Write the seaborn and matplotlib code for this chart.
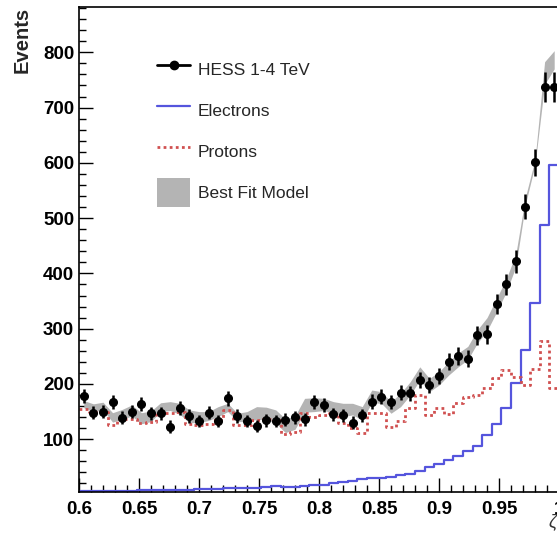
import numpy as np
import matplotlib
matplotlib.use("Agg")
import matplotlib.pyplot as plt
import seaborn as sns
from matplotlib.lines import Line2D
from matplotlib.patches import Patch
from matplotlib.ticker import MultipleLocator, FuncFormatter

# ---------------- data (50 bins of width 0.008 in zeta, 0.6 .. 1.0) ----------------
x_min, x_max, n_bins = 0.6, 1.0, 50

hess_counts = [178, 148, 150, 167, 139, 150, 163, 147, 147, 123,
               156, 142, 133, 148, 133, 174, 142, 133, 124, 134,
               133, 135, 140, 136, 167, 162, 145, 143, 130, 143,
               168, 177, 167, 184, 183, 207, 198, 214, 240, 251,
               246, 288, 290, 345, 380, 422, 521, 601, 738, 738]

hess_errors = [13.3, 12.2, 12.2, 12.9, 11.8, 12.2, 12.8, 12.1, 12.1, 11.1,
               12.5, 11.9, 11.5, 12.2, 11.5, 13.2, 11.9, 11.5, 11.1, 11.6,
               11.5, 11.6, 11.8, 11.7, 12.9, 12.7, 12.0, 12.0, 11.4, 12.0,
               13.0, 13.3, 12.9, 13.6, 13.5, 14.4, 14.1, 14.6, 15.5, 15.8,
               15.7, 17.0, 17.0, 18.6, 19.5, 20.5, 22.8, 24.5, 27.2, 27.2]

electrons = [6, 6, 6, 7, 7, 7, 8, 8, 8, 9,
             9, 9, 10, 10, 10, 11, 11, 11, 12, 14,
             15, 14, 14, 15, 17, 18, 20, 23, 25, 28,
             29, 30, 32, 35, 38, 43, 49, 55, 63, 69,
             79, 88, 107, 128, 156, 201, 261, 347, 488, 596]

protons = [155, 149, 150, 126, 137, 137, 130, 131, 148, 148,
           150, 128, 126, 127, 135, 153, 126, 125, 135, 137,
           135, 110, 113, 147, 141, 144, 148, 129, 120, 112,
           148, 147, 123, 133, 156, 180, 144, 156, 145, 165,
           177, 180, 193, 210, 225, 213, 199, 227, 278, 193]

fit_upper = [170, 164, 167, 148, 154, 162, 148, 151, 166, 168,
             165, 153, 150, 150, 159, 165, 147, 150, 159, 158,
             153, 137, 142, 174, 175, 174, 168, 165, 165, 159,
             189, 186, 168, 183, 204, 231, 210, 222, 240, 256,
             268, 298, 320, 355, 390, 435, 538, 606, 783, 803]

fit_lower = [157, 150, 153, 131, 136, 142, 128, 132, 150, 152,
             145, 130, 130, 134, 141, 150, 132, 132, 136, 135,
             129, 112, 118, 149, 150, 152, 147, 141, 144, 135,
             166, 165, 147, 159, 180, 207, 186, 198, 216, 231,
             244, 274, 296, 330, 366, 412, 525, 596, 742, 770]

legend_labels = ["HESS 1-4 TeV", "Electrons", "Protons", "Best Fit Model"]

# ---------------- figure ----------------
sns.set_theme(style="ticks")
plt.rcParams['font.family'] = ['Liberation Sans', 'DejaVu Sans']
plt.rcParams['font.weight'] = 'bold'

W, H = 557, 536
fig = plt.figure(figsize=(W / 100, H / 100), dpi=100)
fig.patch.set_facecolor('white')
ax = fig.add_axes([79 / W, 1 - 492.3 / H, 480 / W, (492.3 - 7) / H])
ax.set_facecolor('white')

edges = np.linspace(x_min, x_max, n_bins + 1)
centers = 0.5 * (edges[:-1] + edges[1:])
edge_list = [float(e) for e in edges]

col_band = '#b4b4b4'
col_e = '#5555dd'
col_p = '#d05050'
dots = (0, (1, 1.2))

ax.fill_between(centers, fit_lower, fit_upper, color=col_band, lw=0, zorder=1)

sns.histplot(x=centers, weights=electrons, bins=edge_list, element='step', fill=False,
             color=col_e, linewidth=1.6, ax=ax, zorder=2)
sns.histplot(x=centers, weights=protons, bins=edge_list, element='step', fill=False,
             color=col_p, linewidth=2.0, linestyle=dots, ax=ax, zorder=2)

ax.errorbar(centers, hess_counts, yerr=hess_errors, fmt='o', color='black',
            ms=5.5, elinewidth=1.8, capsize=0, zorder=3)

ax.set_xlim(x_min, x_max)
ax.set_ylim(4, 882)

ax.xaxis.set_major_locator(MultipleLocator(0.05))
ax.xaxis.set_minor_locator(MultipleLocator(0.01))
ax.yaxis.set_major_locator(MultipleLocator(100))
ax.yaxis.set_minor_locator(MultipleLocator(20))
ax.xaxis.set_major_formatter(FuncFormatter(lambda v, p: f"{v:g}"))
ax.yaxis.set_major_formatter(FuncFormatter(lambda v, p: f"{v:.0f}"))

ax.tick_params(which='both', direction='in', top=False, right=False,
               colors='black', labelsize=13.5, width=1.0)
ax.tick_params(which='major', length=10)
ax.tick_params(which='minor', length=5)
ax.tick_params(axis='x', which='major', pad=6)
ax.tick_params(axis='y', which='major', pad=3.5)

for s in ['left', 'bottom', 'top', 'right']:
    ax.spines[s].set_visible(True)
    ax.spines[s].set_color('black')
    ax.spines[s].set_linewidth(1.2)

ax.set_xlabel('')
ax.set_ylabel('Events', fontsize=14.5, fontweight='bold', loc='top', labelpad=8)

fig.text(553 / W, 1 - 522 / H, 'ζ', fontsize=13, style='italic', weight='normal',
         ha='center', va='center', color='#333333')

handles = [
    Line2D([], [], color='black', lw=2, marker='o', ms=6),
    Line2D([], [], color=col_e, lw=1.6),
    Line2D([], [], color=col_p, lw=2.0, linestyle=dots),
    Patch(facecolor=col_band, edgecolor='none'),
]
fs_px = 12.5 * 100 / 72
ax.legend(handles, legend_labels, loc='upper left',
          bbox_to_anchor=(157 / W, 1 - 55.5 / H), bbox_transform=fig.transFigure,
          frameon=False, prop={'size': 12.5, 'weight': 'normal'},
          handlelength=33 / fs_px, handleheight=2.19,
          handletextpad=8 / fs_px, labelspacing=12 / fs_px,
          borderpad=0, borderaxespad=0, numpoints=1)

fig.savefig('out.png', dpi=100, facecolor='white')
